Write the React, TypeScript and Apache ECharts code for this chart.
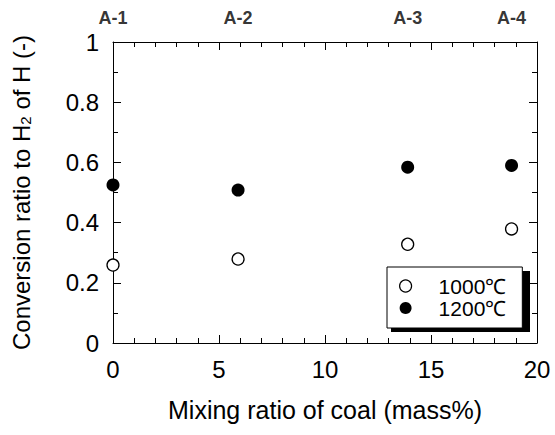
import React, { useEffect, useRef } from "react";
import * as echarts from "echarts";

const mixingRatio = [0, 5.9, 13.9, 18.8];
const sampleLabels = ["A-1", "A-2", "A-3", "A-4"];
const conv1000 = [0.259, 0.279, 0.328, 0.379];
const conv1200 = [0.525, 0.508, 0.584, 0.59];
const seriesNames = ["1000℃", "1200℃"];

const FONT = "'Liberation Sans', Arial, sans-serif";

export default function App() {
  const ref = useRef<HTMLDivElement>(null);
  useEffect(() => {
    document.body.style.margin = "0";
    if (!ref.current) return;
    const chart = echarts.init(ref.current, null, { renderer: "svg" });
    const axisCommon = {
      axisLine: { show: true, onZero: false, lineStyle: { color: "#000", width: 1 } },
      axisTick: { show: true, inside: true, length: 8, lineStyle: { color: "#000" } },
      minorTick: { show: true, splitNumber: 0, length: 5, lineStyle: { color: "#000" } },
      splitLine: { show: false },
      minorSplitLine: { show: false },
    };
    chart.setOption({
      animation: false,
      backgroundColor: "#fff",
      grid: { left: 113, top: 42, right: 18, bottom: 92 },
      xAxis: [
        {
          type: "value",
          min: 0,
          max: 20,
          interval: 5,
          position: "bottom",
          ...axisCommon,
          minorTick: { ...axisCommon.minorTick, splitNumber: 5 },
          axisLabel: { fontSize: 24, color: "#000", fontFamily: FONT, margin: 14 },
          name: "Mixing ratio of coal (mass%)",
          nameLocation: "middle",
          nameGap: 54,
          nameTextStyle: { fontSize: 25, color: "#000", fontFamily: FONT },
        },
        {
          type: "value",
          min: 0,
          max: 20,
          interval: 5,
          position: "top",
          ...axisCommon,
          minorTick: { ...axisCommon.minorTick, splitNumber: 5 },
          axisLabel: { show: false },
        },
      ],
      yAxis: [
        {
          type: "value",
          min: 0,
          max: 1,
          interval: 0.2,
          position: "left",
          ...axisCommon,
          minorTick: { ...axisCommon.minorTick, splitNumber: 2 },
          axisLabel: { fontSize: 24, color: "#000", fontFamily: FONT, margin: 14 },
          name: "Conversion ratio to H{sub|2} of H (-)",
          nameLocation: "middle",
          nameGap: 80,
          nameTextStyle: {
            fontSize: 24,
            color: "#000",
            fontFamily: FONT,
            rich: {
              sub: { fontSize: 15, fontFamily: FONT, color: "#000", verticalAlign: "bottom", lineHeight: 14 },
            },
          },
        },
        {
          type: "value",
          min: 0,
          max: 1,
          interval: 0.2,
          position: "right",
          ...axisCommon,
          minorTick: { ...axisCommon.minorTick, splitNumber: 2 },
          axisLabel: { show: false },
        },
      ],
      legend: {
        orient: "vertical",
        left: 387,
        top: 267,
        padding: [8, 16, 9, 12],
        itemGap: 0,
        itemWidth: 12,
        itemHeight: 12,
        backgroundColor: "#fff",
        borderColor: "#000",
        borderWidth: 1,
        selectedMode: false,
        z: 100,
        textStyle: { fontSize: 21, fontFamily: FONT, color: "#000", lineHeight: 22, padding: [0, 0, 0, 22] },
        data: [
          { name: seriesNames[0], icon: "circle", itemStyle: { color: "#fff", borderColor: "#000", borderWidth: 1.2, opacity: 1 } },
          { name: seriesNames[1], icon: "circle", itemStyle: { color: "#000", borderWidth: 0, opacity: 1 } },
        ],
      },
      series: [
        {
          name: "legendShadow",
          type: "custom",
          coordinateSystem: "none",
          silent: true,
          z: 50,
          data: [[0]],
          renderItem: () => ({
            type: "rect",
            shape: { x: 391, y: 271, width: 139, height: 61 },
            style: { fill: "#000" },
          }),
        },
        {
          name: seriesNames[0],
          type: "scatter",
          symbol: "circle",
          symbolSize: 12,
          itemStyle: { color: "#fff", borderColor: "#000", borderWidth: 1.3, opacity: 1 },
          data: mixingRatio.map((x, i) => [x, conv1000[i]]),
          clip: false,
          z: 3,
        },
        {
          name: seriesNames[1],
          type: "scatter",
          symbol: "circle",
          symbolSize: 13,
          itemStyle: { color: "#000", opacity: 1 },
          data: mixingRatio.map((x, i) => [x, conv1200[i]]),
          clip: false,
          z: 3,
        },
        {
          name: "samples",
          type: "scatter",
          symbolSize: 0,
          clip: false,
          silent: true,
          data: mixingRatio.map((x, i) => ({ value: [x, 1], label: { formatter: sampleLabels[i] } })),
          label: {
            show: true,
            position: "top",
            distance: 15,
            fontSize: 18,
            fontWeight: "bold",
            fontFamily: FONT,
            color: "#000",
          },
        },
      ],
    });
    return () => chart.dispose();
  }, []);
  return <div ref={ref} style={{ width: 555, height: 435 }} />;
}
